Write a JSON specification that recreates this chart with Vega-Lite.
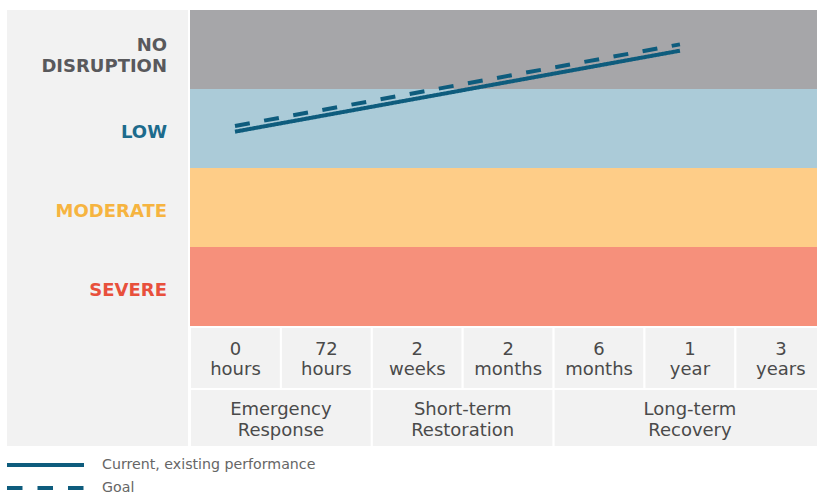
{
  "$schema": "https://vega.github.io/schema/vega-lite/v6.json",
  "width": 817,
  "height": 496,
  "autosize": {"type": "none"},
  "padding": 0,
  "background": "white",
  "config": {"view": {"stroke": null}, "axis": {"disable": true}},
  "datasets": {
    "levels": [
      {"level": "SEVERE", "rank": 0},
      {"level": "MODERATE", "rank": 1},
      {"level": "LOW", "rank": 2},
      {"level": "NO\nDISRUPTION", "rank": 3}
    ],
    "steps": [
      {"step": 0, "time": "0\nhours", "phase": "Emergency\nResponse"},
      {"step": 1, "time": "72\nhours", "phase": "Emergency\nResponse"},
      {"step": 2, "time": "2\nweeks", "phase": "Short-term\nRestoration"},
      {"step": 3, "time": "2\nmonths", "phase": "Short-term\nRestoration"},
      {"step": 4, "time": "6\nmonths", "phase": "Long-term\nRecovery"},
      {"step": 5, "time": "1\nyear", "phase": "Long-term\nRecovery"},
      {"step": 6, "time": "3\nyears", "phase": "Long-term\nRecovery"}
    ],
    "lines": [
      {"series": "Current, existing performance", "t": 0.495, "level": 2.46},
      {"series": "Current, existing performance", "t": 5.39, "level": 3.485},
      {"series": "Goal", "t": 0.495, "level": 2.532},
      {"series": "Goal", "t": 5.39, "level": 3.565}
    ]
  },
  "layer": [
    {
      "data": {"values": [{}]},
      "mark": {"type": "rect", "fill": "#f2f2f2", "stroke": "white", "strokeWidth": 2},
      "encoding": {
        "x": {"datum": -2.0242, "type": "quantitative", "scale": {"type": "linear", "domain": [-2.0902, 6.8977], "nice": false, "zero": false}, "axis": null},
        "x2": {"datum": -0.011},
        "y": {"datum": 4.0127, "type": "quantitative", "scale": {"type": "linear", "domain": [-2.1519, 4.1266], "nice": false, "zero": false}, "axis": null},
        "y2": {"datum": -1.5316}
      }
    },
    {
      "data": {"name": "levels"},
      "mark": {"type": "rect", "clip": true, "y2Offset": -79},
      "encoding": {
        "x": {"datum": 0, "type": "quantitative", "scale": {"type": "linear", "domain": [-2.0902, 6.8977], "nice": false, "zero": false}},
        "x2": {"datum": 7.5},
        "y": {"field": "rank", "type": "quantitative", "scale": {"type": "linear", "domain": [-2.1519, 4.1266], "nice": false, "zero": false}},
        "y2": {"field": "rank"},
        "fill": {"field": "level", "type": "nominal", "legend": null,
          "scale": {"domain": ["SEVERE", "MODERATE", "LOW", "NO\nDISRUPTION"], "range": ["#f6907b", "#fecd88", "#abcbd8", "#a6a6a9"]}}
      }
    },
    {
      "data": {"name": "levels"},
      "transform": [{"filter": "datum.rank < 3"}],
      "mark": {"type": "text", "align": "right", "baseline": "middle", "yOffset": -35.5, "lineBreak": "\n", "lineHeight": 21, "font": "DejaVu Sans", "fontWeight": "bold", "fontSize": 18},
      "encoding": {
        "x": {"datum": -0.253, "type": "quantitative", "scale": {"type": "linear", "domain": [-2.0902, 6.8977], "nice": false, "zero": false}},
        "y": {"field": "rank", "type": "quantitative", "scale": {"type": "linear", "domain": [-2.1519, 4.1266], "nice": false, "zero": false}},
        "text": {"field": "level"},
        "color": {"field": "level", "type": "nominal", "legend": null,
          "scale": {"domain": ["SEVERE", "MODERATE", "LOW", "NO\nDISRUPTION"], "range": ["#e8503c", "#f6b440", "#1d6b8c", "#59595c"]}}
      }
    },
    {
      "data": {"name": "levels"},
      "transform": [{"filter": "datum.rank == 3"}],
      "mark": {"type": "text", "align": "right", "baseline": "middle", "yOffset": -43.5, "lineBreak": "\n", "lineHeight": 21, "font": "DejaVu Sans", "fontWeight": "bold", "fontSize": 18},
      "encoding": {
        "x": {"datum": -0.253, "type": "quantitative", "scale": {"type": "linear", "domain": [-2.0902, 6.8977], "nice": false, "zero": false}},
        "y": {"field": "rank", "type": "quantitative", "scale": {"type": "linear", "domain": [-2.1519, 4.1266], "nice": false, "zero": false}},
        "text": {"field": "level"},
        "color": {"field": "level", "type": "nominal", "legend": null,
          "scale": {"domain": ["SEVERE", "MODERATE", "LOW", "NO\nDISRUPTION"], "range": ["#e8503c", "#f6b440", "#1d6b8c", "#59595c"]}}
      }
    },
    {
      "data": {"name": "lines"},
      "mark": {"type": "line", "color": "#0e5c7d", "strokeWidth": 4, "strokeCap": "butt"},
      "encoding": {
        "x": {"field": "t", "type": "quantitative", "scale": {"type": "linear", "domain": [-2.0902, 6.8977], "nice": false, "zero": false}},
        "y": {"field": "level", "type": "quantitative", "scale": {"type": "linear", "domain": [-2.1519, 4.1266], "nice": false, "zero": false}},
        "detail": {"field": "series"},
        "strokeDash": {"field": "series", "type": "nominal", "legend": null,
          "scale": {"domain": ["Current, existing performance", "Goal"], "range": [[1, 0], [15, 14.6]]}}
      }
    },
    {
      "data": {"name": "steps"},
      "mark": {"type": "rect", "clip": true, "fill": "#f2f2f2", "stroke": "white", "strokeWidth": 2, "x2Offset": 90.9},
      "encoding": {
        "x": {"field": "step", "type": "quantitative", "scale": {"type": "linear", "domain": [-2.0902, 6.8977], "nice": false, "zero": false}},
        "x2": {"field": "step"},
        "y": {"datum": -0.0126, "type": "quantitative", "scale": {"type": "linear", "domain": [-2.1519, 4.1266], "nice": false, "zero": false}},
        "y2": {"datum": -0.7975}
      }
    },
    {
      "data": {"name": "steps"},
      "mark": {"type": "text", "align": "center", "baseline": "middle", "xOffset": 45.45, "lineBreak": "\n", "lineHeight": 19.5, "font": "DejaVu Sans", "fontSize": 18, "color": "#4a4a4a"},
      "encoding": {
        "x": {"field": "step", "type": "quantitative", "scale": {"type": "linear", "domain": [-2.0902, 6.8977], "nice": false, "zero": false}},
        "y": {"datum": -0.3101, "type": "quantitative", "scale": {"type": "linear", "domain": [-2.1519, 4.1266], "nice": false, "zero": false}},
        "text": {"field": "time"}
      }
    },
    {
      "data": {"name": "steps"},
      "transform": [{"aggregate": [{"op": "min", "field": "step", "as": "first"}, {"op": "max", "field": "step", "as": "last"}], "groupby": ["phase"]}],
      "mark": {"type": "rect", "clip": true, "fill": "#f2f2f2", "stroke": "white", "strokeWidth": 2, "x2Offset": 90.9},
      "encoding": {
        "x": {"field": "first", "type": "quantitative", "scale": {"type": "linear", "domain": [-2.0902, 6.8977], "nice": false, "zero": false}},
        "x2": {"field": "last"},
        "y": {"datum": -0.7975, "type": "quantitative", "scale": {"type": "linear", "domain": [-2.1519, 4.1266], "nice": false, "zero": false}},
        "y2": {"datum": -1.5316}
      }
    },
    {
      "data": {"name": "steps"},
      "transform": [{"aggregate": [{"op": "mean", "field": "step", "as": "mid"}], "groupby": ["phase"]}],
      "mark": {"type": "text", "align": "center", "baseline": "middle", "xOffset": 45.45, "lineBreak": "\n", "lineHeight": 20.5, "font": "DejaVu Sans", "fontSize": 18, "color": "#4a4a4a"},
      "encoding": {
        "x": {"field": "mid", "type": "quantitative", "scale": {"type": "linear", "domain": [-2.0902, 6.8977], "nice": false, "zero": false}},
        "y": {"datum": -1.0633, "type": "quantitative", "scale": {"type": "linear", "domain": [-2.1519, 4.1266], "nice": false, "zero": false}},
        "text": {"field": "phase"}
      }
    },
    {
      "data": {"values": [{"series": "Current, existing performance"}]},
      "mark": {"type": "rule", "color": "#0e5c7d", "strokeWidth": 4, "strokeCap": "butt"},
      "encoding": {
        "x": {"datum": -2.0132, "type": "quantitative", "scale": {"type": "linear", "domain": [-2.0902, 6.8977], "nice": false, "zero": false}},
        "x2": {"datum": -1.1661},
        "y": {"datum": -1.7595, "type": "quantitative", "scale": {"type": "linear", "domain": [-2.1519, 4.1266], "nice": false, "zero": false}}
      }
    },
    {
      "data": {"values": [{"series": "Goal"}]},
      "mark": {"type": "rule", "color": "#0e5c7d", "strokeWidth": 4, "strokeCap": "butt", "strokeDash": [15.5, 15]},
      "encoding": {
        "x": {"datum": -2.0132, "type": "quantitative", "scale": {"type": "linear", "domain": [-2.0902, 6.8977], "nice": false, "zero": false}},
        "x2": {"datum": -1.1661},
        "y": {"datum": -2.0506, "type": "quantitative", "scale": {"type": "linear", "domain": [-2.1519, 4.1266], "nice": false, "zero": false}}
      }
    },
    {
      "data": {"values": [{"series": "Current, existing performance"}]},
      "mark": {"type": "text", "align": "left", "baseline": "middle", "font": "DejaVu Sans", "fontSize": 14.2, "color": "#666666"},
      "encoding": {
        "x": {"datum": -0.968, "type": "quantitative", "scale": {"type": "linear", "domain": [-2.0902, 6.8977], "nice": false, "zero": false}},
        "y": {"datum": -1.7595, "type": "quantitative", "scale": {"type": "linear", "domain": [-2.1519, 4.1266], "nice": false, "zero": false}},
        "text": {"field": "series"}
      }
    },
    {
      "data": {"values": [{"series": "Goal"}]},
      "mark": {"type": "text", "align": "left", "baseline": "middle", "font": "DejaVu Sans", "fontSize": 14.2, "color": "#666666"},
      "encoding": {
        "x": {"datum": -0.968, "type": "quantitative", "scale": {"type": "linear", "domain": [-2.0902, 6.8977], "nice": false, "zero": false}},
        "y": {"datum": -2.0506, "type": "quantitative", "scale": {"type": "linear", "domain": [-2.1519, 4.1266], "nice": false, "zero": false}},
        "text": {"field": "series"}
      }
    }
  ]
}
